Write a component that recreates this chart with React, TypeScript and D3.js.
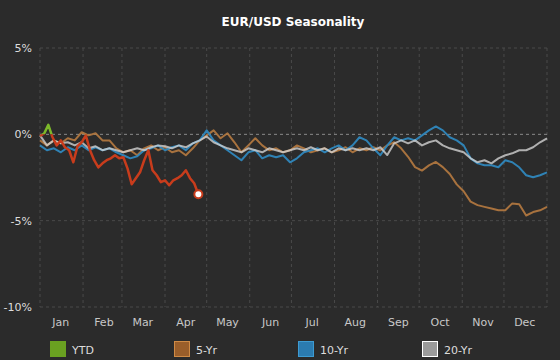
import React, { useEffect, useRef } from 'react';
import * as d3 from 'd3';

// values in %, sampled every STEP days from Jan 1
const LONG_STEP = 5;
const YTD_STEP = 3;

const fiveYr = [-0.35, -0.64, -0.35, -0.52, -0.23, -0.35, 0.12, -0.06, 0.06, -0.35, -0.35, -0.81, -1.04, -0.92, -1.21, -0.81, -0.64, -0.92, -0.75, -1.04, -0.92, -1.21, -0.81, -0.35, -0.06, 0.23, -0.23, 0.06, -0.46, -1.04, -0.64, -0.23, -0.64, -0.92, -0.81, -1.04, -0.92, -0.64, -0.81, -1.04, -0.92, -0.81, -1.04, -0.92, -0.75, -1.04, -0.81, -0.92, -0.75, -0.92, -0.64, -0.46, -0.81, -1.3, -1.9, -2.1, -1.8, -1.6, -1.9, -2.3, -2.9, -3.3, -3.9, -4.1, -4.2, -4.3, -4.4, -4.4, -4.0, -4.05, -4.7, -4.5, -4.4, -4.2];
const tenYr = [-0.64, -0.92, -0.81, -1.04, -0.75, -0.92, -0.64, -0.92, -0.75, -0.92, -0.81, -1.04, -1.21, -1.39, -1.27, -0.92, -0.81, -0.64, -0.92, -0.75, -0.64, -0.92, -0.52, -0.35, 0.23, -0.35, -0.64, -0.92, -1.21, -1.5, -1.04, -0.92, -1.39, -1.21, -1.33, -1.21, -1.62, -1.39, -1.04, -0.92, -0.81, -1.04, -0.81, -0.64, -0.92, -0.64, -0.17, -0.35, -0.81, -1.21, -0.64, -0.17, -0.35, -0.23, -0.35, -0.06, 0.23, 0.46, 0.23, -0.17, -0.35, -0.64, -1.39, -1.68, -1.79, -1.79, -1.91, -1.5, -1.62, -1.91, -2.37, -2.49, -2.37, -2.2];
const twentyYr = [-0.06, -0.64, -0.35, -0.52, -0.46, -0.64, -0.46, -0.81, -0.69, -0.92, -0.81, -0.92, -1.04, -0.92, -0.81, -0.92, -0.75, -0.64, -0.69, -0.81, -0.64, -0.75, -0.52, -0.35, -0.12, -0.46, -0.64, -0.81, -0.92, -1.04, -0.81, -0.92, -1.04, -0.81, -0.92, -1.04, -0.92, -0.81, -0.92, -0.75, -0.92, -0.81, -1.04, -0.81, -0.92, -0.81, -0.92, -0.81, -0.92, -0.75, -1.2, -0.52, -0.35, -0.52, -0.35, -0.64, -0.46, -0.35, -0.64, -0.81, -0.92, -1.04, -1.39, -1.62, -1.5, -1.68, -1.39, -1.21, -1.1, -0.92, -0.92, -0.75, -0.46, -0.23];
const ytd = [-0.1, 0.05, 0.55, -0.17, -0.64, -0.35, -0.75, -0.92, -1.62, -0.69, -0.46, -0.06, -0.92, -1.5, -1.91, -1.68, -1.5, -1.39, -1.21, -1.39, -1.33, -1.97, -2.89, -2.54, -2.2, -1.5, -0.92, -2.08, -2.37, -2.77, -2.66, -2.95, -2.66, -2.54, -2.37, -2.08, -2.54, -2.83, -3.47];

const yTicks = [5, 0, -5, -10];
const months = ['Jan', 'Feb', 'Mar', 'Apr', 'May', 'Jun', 'Jul', 'Aug', 'Sep', 'Oct', 'Nov', 'Dec'];
const legendNames = ['YTD', '5-Yr', '10-Yr', '20-Yr'];
const legendFill = ['#6aa121', '#9a5e2a', '#2b7bb0', '#9a9a9a'];
const legendStroke = ['#6aa121', '#cf8a45', '#3d9bd2', '#ffffff'];

const FONT = '"DejaVu Sans", Verdana, sans-serif';

const App = () => {
  const ref = useRef(null);

  useEffect(() => {
    if (ref.current) draw(ref.current);
  }, []);

  return (
    <div style={{ position: 'fixed', left: 0, top: 0 }}>
      <svg ref={ref} width={560} height={360} style={{ display: 'block' }} />
    </div>
  );
};

function draw(node) {
  const svg = d3.select(node);
  svg.selectAll('*').remove();

  const width = 560;
  const height = 360;
  const left = 40, right = 547, top = 48, bottom = 307;

  svg.append('rect').attr('width', width).attr('height', height).attr('fill', '#2b2b2b');

  const start = new Date(2019, 0, 1);
  const end = new Date(2020, 0, 1);
  const x = d3.scaleTime().domain([start, end]).range([left, right]);
  const y = d3.scaleLinear().domain([-10, 5]).range([bottom, top]);

  // title
  svg.append('text')
    .attr('x', 293).attr('y', 26)
    .attr('text-anchor', 'middle')
    .attr('fill', '#fff')
    .style('font-family', FONT)
    .style('font-size', '12px')
    .style('font-weight', 'bold')
    .text('EUR/USD Seasonality');

  // vertical grid at month boundaries
  const bounds = d3.timeMonth.range(start, end).concat([end]);
  svg.selectAll('.vgrid')
    .data(bounds)
    .enter().append('line')
    .attr('x1', d => x(d)).attr('x2', d => x(d))
    .attr('y1', top).attr('y2', bottom)
    .attr('stroke', '#4a4a4a')
    .attr('stroke-dasharray', '3,3');

  // horizontal grid
  svg.selectAll('.hgrid')
    .data(yTicks)
    .enter().append('line')
    .attr('x1', left).attr('x2', right)
    .attr('y1', d => y(d)).attr('y2', d => y(d))
    .attr('stroke', d => (d === 0 ? '#8a8a8a' : '#4a4a4a'))
    .attr('stroke-dasharray', '3,3');

  // y labels
  svg.selectAll('.ylab')
    .data(yTicks)
    .enter().append('text')
    .attr('x', 32).attr('y', d => y(d) + 4)
    .attr('text-anchor', 'end')
    .attr('fill', '#ddd')
    .style('font-family', FONT)
    .style('font-size', '11px')
    .text(d => `${d}%`);

  // month labels at mid-month
  svg.selectAll('.xlab')
    .data(months)
    .enter().append('text')
    .attr('x', (d, i) => x(new Date(2019, i, 16)))
    .attr('y', 326)
    .attr('text-anchor', 'middle')
    .attr('fill', '#c8c8c8')
    .style('font-family', FONT)
    .style('font-size', '11px')
    .text(d => d);

  const toPoints = (vals, step) => vals.map((v, i) => ({ date: d3.timeDay.offset(start, i * step), v }));
  const line = d3.line().x(d => x(d.date)).y(d => y(d.v));

  const series = [
    { vals: fiveYr, color: '#b67a40', opacity: 0.9 },
    { vals: tenYr, color: '#2f87bd', opacity: 0.95 },
    { vals: twentyYr, color: '#d2d2d2', opacity: 0.8 }
  ];
  series.forEach(s => {
    svg.append('path')
      .datum(toPoints(s.vals, LONG_STEP))
      .attr('d', line)
      .attr('fill', 'none')
      .attr('stroke', s.color)
      .attr('stroke-opacity', s.opacity)
      .attr('stroke-width', 2)
      .attr('stroke-linejoin', 'round');
  });

  // YTD: green above zero, red below
  const defs = svg.append('defs');
  defs.append('clipPath').attr('id', 'above')
    .append('rect').attr('x', 0).attr('y', 0).attr('width', width).attr('height', y(0));
  defs.append('clipPath').attr('id', 'below')
    .append('rect').attr('x', 0).attr('y', y(0)).attr('width', width).attr('height', height - y(0));

  const ytdPts = toPoints(ytd, YTD_STEP);
  [['above', '#7cb82a'], ['below', '#c83c1c']].forEach(([clip, color]) => {
    svg.append('path')
      .datum(ytdPts)
      .attr('d', line)
      .attr('clip-path', `url(#${clip})`)
      .attr('fill', 'none')
      .attr('stroke', color)
      .attr('stroke-width', 2.5)
      .attr('stroke-linejoin', 'round');
  });

  const last = ytdPts[ytdPts.length - 1];
  svg.append('circle')
    .attr('cx', x(last.date)).attr('cy', y(last.v))
    .attr('r', 4)
    .attr('fill', '#fff')
    .attr('stroke', '#c83c1c')
    .attr('stroke-width', 2);

  // legend
  const leg = svg.selectAll('.leg')
    .data(legendNames)
    .enter().append('g')
    .attr('transform', (d, i) => `translate(${50 + i * 124},341)`);
  leg.append('rect')
    .attr('x', 0.5).attr('y', 0.5)
    .attr('width', 15).attr('height', 15)
    .attr('fill', (d, i) => legendFill[i])
    .attr('stroke', (d, i) => legendStroke[i]);
  leg.append('text')
    .attr('x', 22).attr('y', 12.5)
    .attr('fill', '#ddd')
    .style('font-family', FONT)
    .style('font-size', '11px')
    .text(d => d);
}

export default App;
